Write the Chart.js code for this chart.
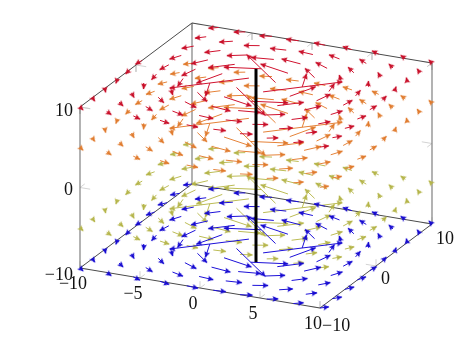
<!DOCTYPE html>
<html>
<head>
<meta charset="utf-8">
<style>html,body{margin:0;padding:0;background:#fff}canvas{display:block}</style>
<script src="https://cdn.jsdelivr.net/npm/chart.js@4"></script>
</head>
<body>
<canvas id="c" width="474" height="355"></canvas>
<script>
const gridValues = [-10,-7.78,-5.56,-3.33,-1.11,1.11,3.33,5.56,7.78,10];
const layerZ = [-10,-5,5,10];
const layerColors = ['#1c10d8','#bcbc55','#e58238','#d0122e'];
const headColors = ['#1408d0','#b4b448','#e07a2c','#c80c26'];
const layerOrder = [3,5,4,2];
// Horizontal arrow components, row = y from -10 to 10, column = x from -10 to 10
const uRows = [
 [.5,.62,.76,.9,.99,.99,.9,.76,.62,.5],
 [.49,.64,.85,1.09,1.26,1.26,1.09,.85,.64,.49],
 [.42,.61,.9,1.32,1.73,1.73,1.32,.9,.61,.42],
 [.3,.47,.79,1.5,2.7,2.7,1.5,.79,.47,.3],
 [.11,.18,.35,.9,4.5,4.5,.9,.35,.18,.11],
 [-.11,-.18,-.35,-.9,-4.5,-4.5,-.9,-.35,-.18,-.11],
 [-.3,-.47,-.79,-1.5,-2.7,-2.7,-1.5,-.79,-.47,-.3],
 [-.42,-.61,-.9,-1.32,-1.73,-1.73,-1.32,-.9,-.61,-.42],
 [-.49,-.64,-.85,-1.09,-1.26,-1.26,-1.09,-.85,-.64,-.49],
 [-.5,-.62,-.76,-.9,-.99,-.99,-.9,-.76,-.62,-.5]
];
const vRows = [
 [-.5,-.49,-.42,-.3,-.11,.11,.3,.42,.49,.5],
 [-.62,-.64,-.61,-.47,-.18,.18,.47,.61,.64,.62],
 [-.76,-.85,-.9,-.79,-.35,.35,.79,.9,.85,.76],
 [-.9,-1.09,-1.32,-1.5,-.9,.9,1.5,1.32,1.09,.9],
 [-.99,-1.26,-1.73,-2.7,-4.5,4.5,2.7,1.73,1.26,.99],
 [-.99,-1.26,-1.73,-2.7,-4.5,4.5,2.7,1.73,1.26,.99],
 [-.9,-1.09,-1.32,-1.5,-.9,.9,1.5,1.32,1.09,.9],
 [-.76,-.85,-.9,-.79,-.35,.35,.79,.9,.85,.76],
 [-.62,-.64,-.61,-.47,-.18,.18,.47,.61,.64,.62],
 [-.5,-.49,-.42,-.3,-.11,.11,.3,.42,.49,.5]
];
// y values at x = -10 in the z = 10 layer, where the picture shows no arrow
const absentTopEdgeY = [3.33,5.56,7.78,10];
const xTicks = [-10,-5,0,5,10];
const yTicks = [-10,0,10];
const zTicks = [-10,0,10];
const axisZ = [-12,12];

// view: how one data unit along x, y, z maps on the flat scales
const viewX = [12, 5.6, 0];
const viewY = [-2, 4.2, 8.05];
const proj = (x,y,z) => ({x: viewX[0]*x + viewX[1]*y + viewX[2]*z, y: viewY[0]*x + viewY[1]*y + viewY[2]*z});
const gap = {x:NaN, y:NaN};

function headImage(color){
  const c = document.createElement('canvas');
  c.width = 16; c.height = 16;
  const g = c.getContext('2d');
  g.fillStyle = color;
  g.beginPath();
  g.moveTo(8,7.6);
  g.lineTo(5.1,13.6);
  g.lineTo(8,12.6);
  g.lineTo(10.9,13.6);
  g.closePath();
  g.fill();
  return c;
}

const datasets = [];
layerZ.forEach((z,k) => {
  const lines = [], tips = [], rot = [];
  uRows.forEach((row,j) => row.forEach((u,i) => {
    if (z === 10 && gridValues[i] === -10 && absentTopEdgeY.includes(gridValues[j])) return;
    const v = vRows[j][i];
    const a = proj(gridValues[i], gridValues[j], z);
    const b = proj(gridValues[i]+u, gridValues[j]+v, z);
    lines.push(a, b, gap);
    tips.push(b);
    rot.push(Math.atan2(b.x-a.x, b.y-a.y)*180/Math.PI);
  }));
  datasets.push({type:'scatter', data:lines, showLine:true, spanGaps:false, borderColor:layerColors[k], borderWidth:1, pointRadius:0, order:layerOrder[k]});
  datasets.push({type:'scatter', data:tips, showLine:false, pointStyle:headImage(headColors[k]), pointRotation:rot, pointRadius:5, order:layerOrder[k]-0.5});
});

function seg(pairs, color, width, order){
  const d = [];
  pairs.forEach(([a,b]) => d.push(proj(...a), proj(...b), gap));
  datasets.push({type:'scatter', data:d, showLine:true, spanGaps:false, borderColor:color, borderWidth:width, pointRadius:0, order});
}
const L = 10, T = 0.85;
seg([[[-L,-L,-L],[-L,-L,L]],[[-L,L,-L],[-L,L,L]],[[L,L,-L],[L,L,L]]], '#808080', 1.2, 8);
seg([[[-L,-L,-L],[L,-L,-L]],[[L,-L,-L],[L,L,-L]],[[-L,-L,-L],[-L,L,-L]],[[-L,L,-L],[L,L,-L]],
     [[-L,L,L],[L,L,L]],[[-L,L,L],[-L,-L,L]]], '#4a4a4a', 1, 7);
const ticks = [];
xTicks.forEach(t => {
  ticks.push([[t,-L,-L],[t,-L+T,-L]],[[t,-L,-L],[t,-L,-L+T]]);
  ticks.push([[t,L,L],[t,L-T,L]],[[t,L,L],[t,L,L-T]]);
});
yTicks.forEach(t => {
  ticks.push([[L,t,-L],[L-T,t,-L]],[[L,t,-L],[L,t,-L+T]]);
  ticks.push([[-L,t,L],[-L+T,t,L]],[[-L,t,L],[-L,t,L-T]]);
});
zTicks.forEach(t => {
  ticks.push([[-L,-L,t],[-L+T,-L,t]],[[-L,-L,t],[-L,-L+T,t]]);
  ticks.push([[L,L,t],[L-T,L,t]],[[L,L,t],[L,L-T,t]]);
});
seg(ticks, '#c8c8c8', 0.8, 9);
seg([[[0,0,axisZ[0]],[0,0,axisZ[1]]]], '#000000', 3, 0);

const fmt = v => v < 0 ? '\u2212' + Math.abs(v) : String(v);
const tickLabels = {
  id:'tickLabels',
  afterDraw(chart){
    const {ctx, scales:{x,y}} = chart;
    ctx.save();
    ctx.fillStyle = '#111';
    ctx.font = '18px "Liberation Serif"';
    ctx.textBaseline = 'middle';
    const put = (v,p,dx,dy,al) => {
      ctx.textAlign = al;
      ctx.fillText(fmt(v), x.getPixelForValue(p.x)+dx, y.getPixelForValue(p.y)+dy);
    };
    const zDy = [7,3,4];
    zTicks.forEach((t,i) => put(t, proj(-L,-L,t), -7, zDy[i], 'right'));
    xTicks.forEach(t => put(t, proj(t,-L,-L), -7, 16, 'center'));
    const yDx = [2,5,4], yDy = [18,13,15];
    yTicks.forEach((t,i) => put(t, proj(L,t,-L), yDx[i], yDy[i], 'left'));
    ctx.restore();
  }
};

new Chart(document.getElementById('c'), {
  data:{datasets},
  options:{
    responsive:false, animation:false, events:[],
    layout:{padding:0, autoPadding:false},
    plugins:{legend:{display:false}, tooltip:{enabled:false}},
    scales:{
      x:{type:'linear', display:false, min:-256, max:218},
      y:{type:'linear', display:false, min:-189.5, max:165.5}
    }
  },
  plugins:[tickLabels]
});
</script>
</body>
</html>
